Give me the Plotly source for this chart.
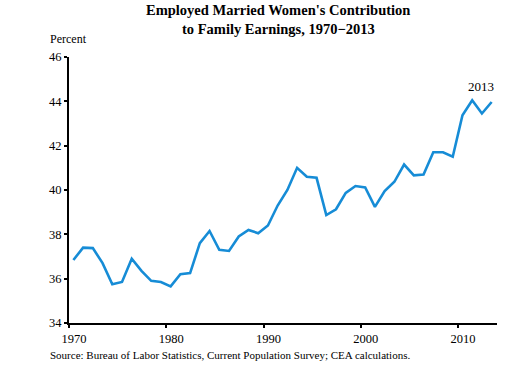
import plotly.graph_objects as go

years = list(range(1970, 2014))
share = [36.84, 37.4, 37.38, 36.7, 35.75, 35.85, 36.9, 36.35, 35.9, 35.85,
         35.65, 36.2, 36.25, 37.6, 38.15, 37.3, 37.25, 37.9, 38.2, 38.05,
         38.4, 39.3, 40.0, 41.0, 40.6, 40.55, 38.87, 39.13, 39.87, 40.18,
         40.12, 39.24, 39.95, 40.37, 41.15, 40.66, 40.7, 41.7, 41.7, 41.5,
         43.37, 44.05, 43.45, 43.97]
x_ticks = [1970, 1980, 1990, 2000, 2010]
y_ticks = [34, 36, 38, 40, 42, 44, 46]

# annual values are drawn at mid-year
x_mid = [y + 0.45 for y in years]

FONT = "Liberation Serif, serif"

fig = go.Figure()
fig.add_trace(go.Scatter(x=x_mid, y=share, mode="lines",
                         line=dict(color="#168cd6", width=2.6),
                         hoverinfo="skip", showlegend=False))

fig.add_annotation(x=x_mid[-1], y=share[-1], text="2013", showarrow=False,
                   xanchor="right", yanchor="bottom", xshift=4, yshift=6,
                   font=dict(family=FONT, size=13, color="#000"))

fig.update_layout(
    width=524, height=369,
    margin=dict(l=69, r=27, t=57, b=46),
    paper_bgcolor="white", plot_bgcolor="white",
    font=dict(family=FONT, size=12, color="#000"),
    xaxis=dict(range=[1970, 2014], tickvals=x_ticks, showgrid=False,
               zeroline=False, showline=True, linecolor="#000", linewidth=2,
               ticks="outside", tickcolor="#000", ticklen=3, tickwidth=1.5,
               ticklabelshift=5,
               tickfont=dict(family=FONT, size=12.5, color="#000")),
    yaxis=dict(range=[34, 46], tickvals=y_ticks, showgrid=False,
               zeroline=False, showline=True, linecolor="#000", linewidth=2,
               ticks="outside", tickcolor="#000", ticklen=3, tickwidth=1.5,
               tickfont=dict(family=FONT, size=12.5, color="#000")),
)

fig.add_annotation(xref="paper", yref="paper", x=0.489, y=1.175,
                   xanchor="center", yanchor="middle",
                   text="<b>Employed Married Women's Contribution</b>",
                   showarrow=False, font=dict(family=FONT, size=14.5, color="#000"))
fig.add_annotation(xref="paper", yref="paper", x=0.489, y=1.104,
                   xanchor="center", yanchor="middle",
                   text="<b>to Family Earnings, 1970\u22122013</b>",
                   showarrow=False, font=dict(family=FONT, size=14.5, color="#000"))
fig.add_annotation(xref="paper", yref="paper", x=-0.05, y=1.035,
                   xanchor="left", yanchor="bottom", text="Percent",
                   showarrow=False, font=dict(family=FONT, size=12, color="#000"))
fig.add_annotation(xref="paper", yref="paper", x=-0.05, y=-0.09,
                   xanchor="left", yanchor="top",
                   text="Source: Bureau of Labor Statistics, Current Population Survey; CEA calculations.",
                   showarrow=False, font=dict(family=FONT, size=11, color="#000"))

fig.write_html("out.html", config={"displayModeBar": False},
               post_script="document.body.style.margin='0';document.body.style.padding='0';document.body.style.overflow='hidden';window.scrollTo(0,0);")
